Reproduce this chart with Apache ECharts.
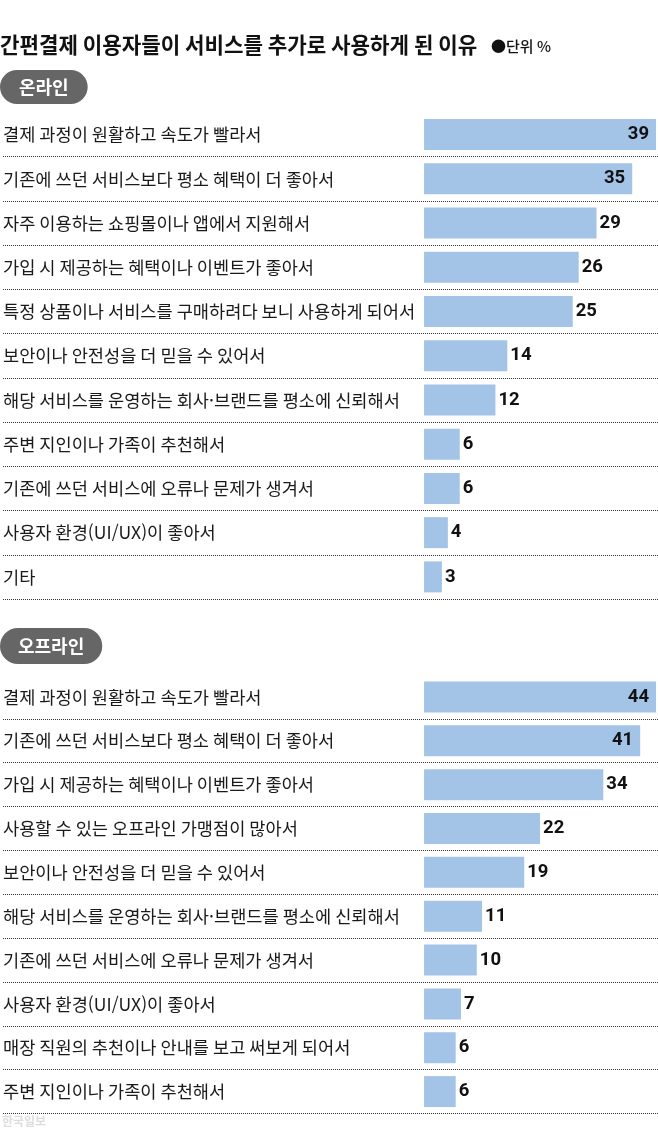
<!DOCTYPE html>
<html lang="ko">
<head>
<meta charset="utf-8">
<title>간편결제 이용자들이 서비스를 추가로 사용하게 된 이유</title>
<script src="https://cdn.jsdelivr.net/npm/echarts@6/dist/echarts.min.js"></script>
<style>
  html, body { margin: 0; padding: 0; background: #fff; }
  #chart { width: 658px; height: 1129px; }
</style>
</head>
<body>
<div id="chart"></div>
<script>
// 온라인
const onlineLabels = [
  '결제 과정이 원활하고 속도가 빨라서',
  '기존에 쓰던 서비스보다 평소 혜택이 더 좋아서',
  '자주 이용하는 쇼핑몰이나 앱에서 지원해서',
  '가입 시 제공하는 혜택이나 이벤트가 좋아서',
  '특정 상품이나 서비스를 구매하려다 보니 사용하게 되어서',
  '보안이나 안전성을 더 믿을 수 있어서',
  '해당 서비스를 운영하는 회사·브랜드를 평소에 신뢰해서',
  '주변 지인이나 가족이 추천해서',
  '기존에 쓰던 서비스에 오류나 문제가 생겨서',
  '사용자 환경(UI/UX)이 좋아서',
  '기타',
]
const onlineValues = [39, 35, 29, 26, 25, 14, 12, 6, 6, 4, 3]

// 오프라인
const offlineLabels = [
  '결제 과정이 원활하고 속도가 빨라서',
  '기존에 쓰던 서비스보다 평소 혜택이 더 좋아서',
  '가입 시 제공하는 혜택이나 이벤트가 좋아서',
  '사용할 수 있는 오프라인 가맹점이 많아서',
  '보안이나 안전성을 더 믿을 수 있어서',
  '해당 서비스를 운영하는 회사·브랜드를 평소에 신뢰해서',
  '기존에 쓰던 서비스에 오류나 문제가 생겨서',
  '사용자 환경(UI/UX)이 좋아서',
  '매장 직원의 추천이나 안내를 보고 써보게 되어서',
  '주변 지인이나 가족이 추천해서',
]
const offlineValues = [44, 41, 34, 22, 19, 11, 10, 7, 6, 6]

const KR = "'Noto Sans CJK KR', 'Noto Sans', sans-serif"
const NUM = "Roboto, 'Liberation Sans', sans-serif"
const BAR_COLOR = '#a3c4e7'

const chart = echarts.init(document.getElementById('chart'))

// bars start at x=423 and the longest bar ends at x=656, each section on its own scale
const W = 658
const BAR_START = 423
const BAR_END = 656

function xRange(maxVal) {
  const px = (BAR_END - BAR_START) / maxVal
  return { min: -BAR_START / px, max: maxVal + (W - BAR_END) / px }
}

function barData(values) {
  const maxVal = Math.max(...values)
  return values.map(v => {
    const inside = v / maxVal > 0.85
    return {
      value: v,
      label: inside
        ? { position: 'insideRight', distance: 7 }
        : { position: 'right', distance: 3 },
    }
  })
}

function yAxisFor(gridIndex, labels) {
  return {
    type: 'category',
    gridIndex,
    inverse: true,
    data: labels,
    axisLine: { show: false },
    axisTick: { show: false },
    axisLabel: {
      interval: 0,
      align: 'left',
      margin: 0,
      color: '#1a1a1a',
      fontFamily: KR,
      fontSize: 17.6,
    },
    splitLine: {
      show: true,
      showMinLine: false,
      lineStyle: { color: '#333', width: 1, type: [1, 1] },
    },
  }
}

function seriesFor(idx, values) {
  return {
    type: 'bar',
    xAxisIndex: idx,
    yAxisIndex: idx,
    data: barData(values),
    barWidth: 31,
    itemStyle: { color: BAR_COLOR },
    label: {
      show: true,
      color: '#111',
      fontFamily: NUM,
      fontWeight: 'bold',
      fontSize: 18.5,
    },
    silent: true,
  }
}

const r1 = xRange(Math.max(...onlineValues))
const r2 = xRange(Math.max(...offlineValues))

const option = {
  animation: false,
  title: [
    {
      text: '간편결제 이용자들이 서비스를 추가로 사용하게 된 이유',
      left: 0,
      top: 32,
      padding: 0,
      textStyle: { fontFamily: KR, fontSize: 21.2, fontWeight: 'bold', color: '#111', lineHeight: 25 },
    },
    {
      text: '●단위 %',
      left: 491,
      top: 36,
      padding: 0,
      textStyle: { fontFamily: KR, fontSize: 15, fontWeight: 500, color: '#111', lineHeight: 20 },
    },
    {
      text: '온라인',
      left: 0,
      top: 70,
      padding: [7, 19],
      backgroundColor: '#666',
      borderRadius: 17,
      textStyle: { fontFamily: KR, fontSize: 18, fontWeight: 'bold', color: '#fff', lineHeight: 20 },
    },
    {
      text: '오프라인',
      left: 0,
      top: 628,
      padding: [8, 18],
      backgroundColor: '#666',
      borderRadius: 18,
      textStyle: { fontFamily: KR, fontSize: 18, fontWeight: 'bold', color: '#fff', lineHeight: 20 },
    },
    {
      text: '한국일보',
      left: 2,
      top: 1114,
      padding: 0,
      textStyle: { fontFamily: KR, fontSize: 12, fontWeight: 'bold', color: '#ddd', lineHeight: 14 },
    },
  ],
  grid: [
    { left: 0, right: 0, top: 112.5, height: 486.5 },
    { left: 0, right: 0, top: 675, height: 438.5 },
  ],
  xAxis: [
    { type: 'value', gridIndex: 0, show: false, min: r1.min, max: r1.max },
    { type: 'value', gridIndex: 1, show: false, min: r2.min, max: r2.max },
  ],
  yAxis: [
    yAxisFor(0, onlineLabels),
    yAxisFor(1, offlineLabels),
  ],
  series: [
    seriesFor(0, onlineValues),
    seriesFor(1, offlineValues),
  ],
}

chart.setOption(option)
</script>
</body>
</html>
